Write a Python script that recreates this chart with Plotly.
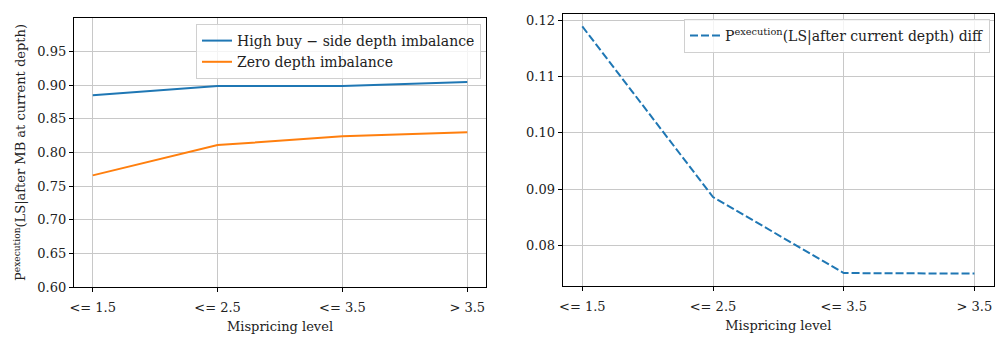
import plotly.graph_objects as go

categories = ["<= 1.5", "<= 2.5", "<= 3.5", "> 3.5"]
high_buy = [0.885, 0.899, 0.899, 0.905]
zero_imb = [0.766, 0.811, 0.824, 0.830]
diff_vals = [0.1189, 0.0886, 0.0751, 0.0750]

FONT = "DejaVu Serif"
FS = 13
BLUE = "#1f77b4"
ORANGE = "#ff7f0e"
GRID = "#c8c8c8"

xs = list(range(len(categories)))
ticktext = [c.replace("<", "&lt;").replace(">", "&gt;") for c in categories]

fig = go.Figure()
fig.add_trace(go.Scatter(x=xs, y=high_buy, mode="lines", name="High buy − side depth imbalance",
                         line=dict(color=BLUE, width=2), xaxis="x", yaxis="y", legend="legend"))
fig.add_trace(go.Scatter(x=xs, y=zero_imb, mode="lines", name="Zero depth imbalance",
                         line=dict(color=ORANGE, width=2), xaxis="x", yaxis="y", legend="legend"))
fig.add_trace(go.Scatter(x=xs, y=diff_vals, mode="lines",
                         name="P<sup>execution</sup>(LS|after current depth) diff",
                         line=dict(color=BLUE, width=2, dash="8px,3px"), xaxis="x2", yaxis="y2",
                         legend="legend2"))

axis_common = dict(showline=True, linecolor="black", linewidth=1.2, mirror=True,
                   ticks="outside", ticklen=4, tickcolor="black", showgrid=True,
                   gridcolor=GRID, gridwidth=1, zeroline=False, automargin=False,
                   tickfont=dict(family=FONT, size=FS, color="#222"))

fig.update_layout(
    width=1000, height=338,
    margin=dict(l=0, r=0, t=0, b=0, autoexpand=False),
    paper_bgcolor="white", plot_bgcolor="white",
    font=dict(family=FONT, size=FS, color="#222"),
    xaxis=dict(domain=[0.074, 0.486], range=[-0.15, 3.15], tickvals=xs, ticktext=ticktext,
               ticklabelstandoff=4,
               title=dict(text="Mispricing level", font=dict(family=FONT, size=FS), standoff=8),
               anchor="y", **axis_common),
    yaxis=dict(domain=[1 - 287 / 338, 1 - 18 / 338], range=[0.60, 1.0],
               tickvals=[0.60, 0.65, 0.70, 0.75, 0.80, 0.85, 0.90, 0.95],
               tickformat=".2f",
               title=dict(text="P<sup>execution</sup>(LS|after MB at current depth)",
                          font=dict(family=FONT, size=FS), standoff=8),
               anchor="x", **axis_common),
    xaxis2=dict(domain=[0.5627, 0.994], range=[-0.15, 3.15], tickvals=xs, ticktext=ticktext,
                ticklabelstandoff=4,
                title=dict(text="Mispricing level", font=dict(family=FONT, size=FS), standoff=8),
                anchor="y2", **axis_common),
    yaxis2=dict(domain=[1 - 286 / 338, 1 - 14 / 338], range=[0.0728, 0.1211],
                tickvals=[0.08, 0.09, 0.10, 0.11, 0.12], tickformat=".2f",
                anchor="x2", **axis_common),
    legend=dict(x=0.481, y=1 - 24 / 338, xanchor="right", yanchor="top",
                bgcolor="rgba(255,255,255,0.8)", bordercolor="#d0d0d0", borderwidth=1,
                font=dict(family=FONT, size=14, color="#222"), tracegroupgap=0),
    legend2=dict(x=0.990, y=1 - 19 / 338, xanchor="right", yanchor="top",
                 bgcolor="rgba(255,255,255,0.8)", bordercolor="#d0d0d0", borderwidth=1,
                 font=dict(family=FONT, size=14, color="#222")),
)

fig.write_html("out.html")
